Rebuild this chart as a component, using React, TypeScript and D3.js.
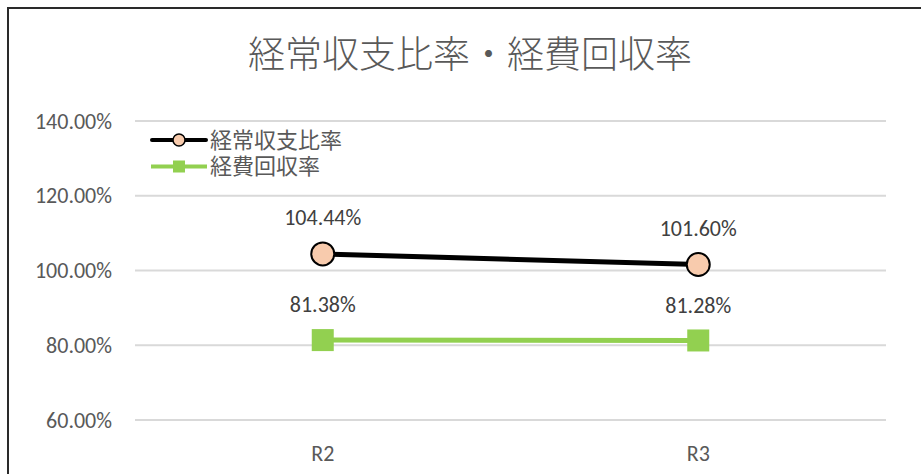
import React from "react";
import * as d3 from "d3";

const categories = ["R2", "R3"];
const seriesNames = ["経常収支比率", "経費回収率"];
const keijoValues = [104.44, 101.6];
const keihiValues = [81.38, 81.28];
const yTicks = [60, 80, 100, 120, 140];
const titleText = "経常収支比率・経費回収率";

const W = 921;
const H = 474;
const numFont = "Carlito, 'Liberation Sans', Arial, sans-serif";
const jpFont = "'Noto Sans CJK JP', sans-serif";

export default function App() {
  const x = d3.scaleBand<string>().domain(categories).range([135, 886]);
  const y = d3.scaleLinear().domain([60, 140]).range([420, 121]);
  const cx = (c: string) => (x(c) as number) + x.bandwidth() / 2;
  const line = d3
    .line<[string, number]>()
    .x((d) => cx(d[0]))
    .y((d) => y(d[1]));
  const s1 = categories.map((c, i) => [c, keijoValues[i]] as [string, number]);
  const s2 = categories.map((c, i) => [c, keihiValues[i]] as [string, number]);
  const fmt = (v: number) => v.toFixed(2) + "%";

  return (
    <svg
      width={W}
      height={H}
      style={{ position: "fixed", left: 0, top: 0, background: "#fff" }}
    >
      <rect x={0} y={0} width={W} height={H} fill="#fff" />
      <rect x={8} y={8} width={W + 20} height={H + 20} fill="#fff" stroke="#2a2a2a" strokeWidth={2} />
      <text
        x={470}
        y={68}
        textAnchor="middle"
        fontFamily={jpFont}
        fontSize={37}
        fontWeight={300}
        fill="#595959"
      >
        {titleText}
      </text>
      {yTicks.map((t) => (
        <g key={t}>
          <line x1={135} x2={886} y1={y(t)} y2={y(t)} stroke="#d9d9d9" strokeWidth={2} />
          <text
            x={112}
            y={y(t)}
            dy="0.35em"
            textAnchor="end"
            fontFamily={numFont}
            fontSize={22}
            fill="#595959"
          >
            {fmt(t)}
          </text>
        </g>
      ))}
      {categories.map((c) => (
        <text
          key={c}
          x={cx(c)}
          y={453}
          dy="0.35em"
          textAnchor="middle"
          fontFamily={numFont}
          fontSize={22}
          fill="#595959"
        >
          {c}
        </text>
      ))}
      <path d={line(s2) as string} fill="none" stroke="#92d050" strokeWidth={5} />
      {s2.map((d) => (
        <rect
          key={d[0]}
          x={cx(d[0]) - 11}
          y={y(d[1]) - 11}
          width={22}
          height={22}
          fill="#92d050"
        />
      ))}
      <path d={line(s1) as string} fill="none" stroke="#000" strokeWidth={5} />
      {s1.map((d) => (
        <circle
          key={d[0]}
          cx={cx(d[0])}
          cy={y(d[1])}
          r={11.5}
          fill="#f8cbad"
          stroke="#000"
          strokeWidth={2}
        />
      ))}
      {s1.map((d) => (
        <text
          key={"l1" + d[0]}
          x={cx(d[0])}
          y={y(d[1]) - 36.5}
          dy="0.35em"
          textAnchor="middle"
          fontFamily={numFont}
          fontSize={22}
          fill="#404040"
        >
          {fmt(d[1])}
        </text>
      ))}
      {s2.map((d) => (
        <text
          key={"l2" + d[0]}
          x={cx(d[0])}
          y={y(d[1]) - 35.5}
          dy="0.35em"
          textAnchor="middle"
          fontFamily={numFont}
          fontSize={22}
          fill="#404040"
        >
          {fmt(d[1])}
        </text>
      ))}
      {/* legend */}
      <g>
        <line x1={152} x2={206} y1={140} y2={140} stroke="#000" strokeWidth={4} strokeLinecap="round" />
        <circle cx={179} cy={140} r={6} fill="#f8cbad" stroke="#000" strokeWidth={1.5} />
        <text x={210} y={140} dy="0.35em" fontFamily={jpFont} fontSize={22} fill="#595959">
          {seriesNames[0]}
        </text>
        <line x1={151} x2={207} y1={166.5} y2={166.5} stroke="#92d050" strokeWidth={4} />
        <rect x={173} y={160.5} width={12} height={12} fill="#92d050" />
        <text x={210} y={166.5} dy="0.35em" fontFamily={jpFont} fontSize={22} fill="#595959">
          {seriesNames[1]}
        </text>
      </g>
    </svg>
  );
}
